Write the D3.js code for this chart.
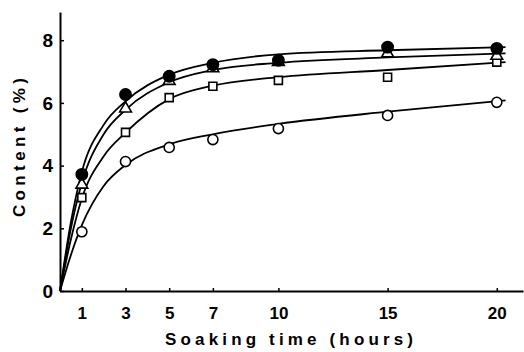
<!doctype html>
<html lang="en">
<head>
<meta charset="utf-8">
<style>
  body { margin: 0; background: #fff; }
  text { font-family: "Liberation Sans", Arial, sans-serif; font-weight: bold; fill: #000; }
</style>
</head>
<body>
<div id="grafico"></div>
<script src="https://d3js.org/d3.v7.min.js"></script>
<script>

// measured points (hours, content %)
var horas = [1, 3, 5, 7, 10, 15, 20];
var rellenos   = [3.72, 6.27, 6.85, 7.22, 7.36, 7.78, 7.74];   // filled circles
var triangulos = [3.39, 5.82, 6.70, 7.10, 7.30, 7.58, 7.50];   // open triangles
var cuadrados  = [2.98, 5.06, 6.17, 6.53, 6.72, 6.82, 7.30];   // open squares
var circulos   = [1.89, 4.13, 4.58, 4.83, 5.18, 5.60, 6.02];   // open circles

// fitted curves
var tCurva = [0, 0.5, 1, 2, 3, 5, 7, 10, 15, 20.4];
var curvaA = [0, 2.20, 3.80, 5.30, 6.05, 6.90, 7.28, 7.55, 7.68, 7.78];
var curvaB = [0, 2.00, 3.45, 5.00, 5.78, 6.66, 7.05, 7.28, 7.45, 7.58];
var curvaC = [0, 1.65, 2.95, 4.30, 5.05, 6.12, 6.55, 6.82, 7.05, 7.30];
var curvaD = [0, 1.15, 2.10, 3.35, 4.02, 4.68, 5.00, 5.33, 5.72, 6.08];

var ticksX = [1, 3, 5, 7, 10, 15, 20];
var ticksY = [0, 2, 4, 6, 8];

var W = 524, H = 352;
var svg = d3.select("#grafico").append("svg").attr("width", W).attr("height", H);

var x = d3.scaleLinear().domain([0, 21.2]).range([60, 523]);
var y = d3.scaleLinear().domain([0, 8.9]).range([291, 12]);

// axes
var ejeX = svg.append("g").attr("transform", "translate(0," + y(0) + ")")
  .call(d3.axisBottom(x).tickValues(ticksX).tickSize(-3).tickSizeOuter(0).tickPadding(16));
var ejeY = svg.append("g").attr("transform", "translate(" + x(0) + ",0)")
  .call(d3.axisLeft(y).tickValues(ticksY).tickSize(-4).tickSizeOuter(0).tickPadding(7));

[ejeX, ejeY].forEach(function(e){
  e.select(".domain").attr("stroke-width", 2);
  e.selectAll(".tick line").attr("stroke-width", 1.5);
});
ejeX.selectAll("text").style("font-size", "17px");
ejeY.selectAll("text").style("font-size", "19px");

// titles
svg.append("text").attr("x", 165).attr("y", 345).style("font-size", "17px")
  .attr("textLength", 248).attr("lengthAdjust", "spacing").text("Soaking time (hours)");
svg.append("text").attr("transform", "translate(25,217) rotate(-90)").style("font-size", "17px")
  .attr("textLength", 139).attr("lengthAdjust", "spacing").text("Content (%)");

// curves
var linea = d3.line().x(function(d){ return x(d[0]); }).y(function(d){ return y(d[1]); }).curve(d3.curveMonotoneX);
[curvaD, curvaC, curvaB, curvaA].forEach(function(c){
  svg.append("path").datum(d3.zip(tCurva, c)).attr("d", linea)
    .attr("fill", "none").attr("stroke", "#000").attr("stroke-width", 1.8);
});

// markers
function marcas(valores, forma, tam, relleno) {
  svg.append("g").selectAll("path").data(d3.zip(horas, valores)).enter().append("path")
    .attr("transform", function(d){ return "translate(" + x(d[0]) + "," + y(d[1]) + ")"; })
    .attr("d", d3.symbol().type(forma).size(tam))
    .attr("fill", relleno).attr("stroke", "#000").attr("stroke-width", 1.6);
}
marcas(circulos, d3.symbolCircle, 80, "#fff");
marcas(cuadrados, d3.symbolSquare, 64, "#fff");
marcas(triangulos, d3.symbolTriangle, 60, "#fff");
marcas(rellenos, d3.symbolCircle, 100, "#000");

</script>
</body>
</html>
